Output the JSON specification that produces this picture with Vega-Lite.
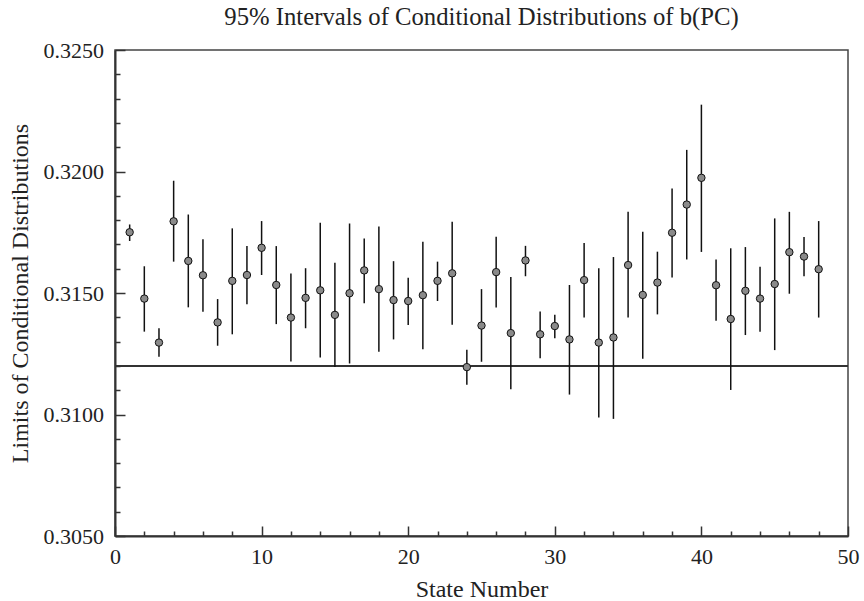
{
  "$schema": "https://vega.github.io/schema/vega-lite/v6.json",
  "width": 733,
  "height": 486,
  "autosize": "none",
  "padding": {"left": 115, "top": 50, "right": 16, "bottom": 65},
  "background": "white",
  "title": {
    "text": "95% Intervals of Conditional Distributions of b(PC)",
    "font": "Liberation Serif",
    "fontSize": 24.7,
    "fontWeight": "normal",
    "color": "#222",
    "anchor": "middle",
    "offset": 9
  },
  "config": {
    "view": {"stroke": "#444", "strokeWidth": 1.5},
    "axis": {
      "labelFont": "Liberation Serif",
      "titleFont": "Liberation Serif",
      "labelColor": "#222",
      "titleColor": "#222",
      "titleFontWeight": "normal",
      "grid": false,
      "domainColor": "#333",
      "domainWidth": 2,
      "tickColor": "#333",
      "tickWidth": 1.5
    }
  },
  "data": {
    "values": [
      {"state": 1, "mid": 0.31750, "lo": 0.31714, "hi": 0.31782},
      {"state": 2, "mid": 0.31477, "lo": 0.31341, "hi": 0.31610},
      {"state": 3, "mid": 0.31296, "lo": 0.31238, "hi": 0.31355},
      {"state": 4, "mid": 0.31795, "lo": 0.31629, "hi": 0.31962},
      {"state": 5, "mid": 0.31632, "lo": 0.31441, "hi": 0.31823},
      {"state": 6, "mid": 0.31573, "lo": 0.31423, "hi": 0.31721},
      {"state": 7, "mid": 0.31379, "lo": 0.31283, "hi": 0.31475},
      {"state": 8, "mid": 0.31550, "lo": 0.31330, "hi": 0.31766},
      {"state": 9, "mid": 0.31574, "lo": 0.31454, "hi": 0.31693},
      {"state": 10, "mid": 0.31686, "lo": 0.31574, "hi": 0.31796},
      {"state": 11, "mid": 0.31533, "lo": 0.31372, "hi": 0.31693},
      {"state": 12, "mid": 0.31399, "lo": 0.31218, "hi": 0.31580},
      {"state": 13, "mid": 0.31480, "lo": 0.31355, "hi": 0.31602},
      {"state": 14, "mid": 0.31511, "lo": 0.31235, "hi": 0.31789},
      {"state": 15, "mid": 0.31410, "lo": 0.31195, "hi": 0.31624},
      {"state": 16, "mid": 0.31499, "lo": 0.31210, "hi": 0.31786},
      {"state": 17, "mid": 0.31593, "lo": 0.31458, "hi": 0.31724},
      {"state": 18, "mid": 0.31516, "lo": 0.31258, "hi": 0.31774},
      {"state": 19, "mid": 0.31471, "lo": 0.31309, "hi": 0.31631},
      {"state": 20, "mid": 0.31467, "lo": 0.31368, "hi": 0.31563},
      {"state": 21, "mid": 0.31491, "lo": 0.31269, "hi": 0.31711},
      {"state": 22, "mid": 0.31550, "lo": 0.31467, "hi": 0.31629},
      {"state": 23, "mid": 0.31581, "lo": 0.31369, "hi": 0.31793},
      {"state": 24, "mid": 0.31195, "lo": 0.31122, "hi": 0.31266},
      {"state": 25, "mid": 0.31366, "lo": 0.31217, "hi": 0.31516},
      {"state": 26, "mid": 0.31586, "lo": 0.31440, "hi": 0.31731},
      {"state": 27, "mid": 0.31335, "lo": 0.31104, "hi": 0.31566},
      {"state": 28, "mid": 0.31634, "lo": 0.31569, "hi": 0.31694},
      {"state": 29, "mid": 0.31330, "lo": 0.31231, "hi": 0.31424},
      {"state": 30, "mid": 0.31364, "lo": 0.31314, "hi": 0.31410},
      {"state": 31, "mid": 0.31309, "lo": 0.31082, "hi": 0.31533},
      {"state": 32, "mid": 0.31553, "lo": 0.31399, "hi": 0.31706},
      {"state": 33, "mid": 0.31296, "lo": 0.30988, "hi": 0.31602},
      {"state": 34, "mid": 0.31317, "lo": 0.30982, "hi": 0.31648},
      {"state": 35, "mid": 0.31615, "lo": 0.31399, "hi": 0.31834},
      {"state": 36, "mid": 0.31492, "lo": 0.31229, "hi": 0.31752},
      {"state": 37, "mid": 0.31543, "lo": 0.31412, "hi": 0.31670},
      {"state": 38, "mid": 0.31748, "lo": 0.31564, "hi": 0.31930},
      {"state": 39, "mid": 0.31864, "lo": 0.31638, "hi": 0.32089},
      {"state": 40, "mid": 0.31974, "lo": 0.31669, "hi": 0.32275},
      {"state": 41, "mid": 0.31532, "lo": 0.31386, "hi": 0.31638},
      {"state": 42, "mid": 0.31393, "lo": 0.31101, "hi": 0.31684},
      {"state": 43, "mid": 0.31509, "lo": 0.31327, "hi": 0.31689},
      {"state": 44, "mid": 0.31477, "lo": 0.31341, "hi": 0.31608},
      {"state": 45, "mid": 0.31537, "lo": 0.31265, "hi": 0.31807},
      {"state": 46, "mid": 0.31668, "lo": 0.31497, "hi": 0.31834},
      {"state": 47, "mid": 0.31650, "lo": 0.31569, "hi": 0.31730},
      {"state": 48, "mid": 0.31598, "lo": 0.31399, "hi": 0.31796}
    ]
  },
  "encoding": {
    "x": {
      "field": "state",
      "type": "quantitative",
      "scale": {"domain": [0, 50], "nice": false, "zero": false},
      "axis": {
        "title": "State Number",
        "titleFontSize": 24,
        "titleY": 60,
        "titleBaseline": "alphabetic",
        "labelFontSize": 22,
        "labelBaseline": "alphabetic",
        "labelPadding": 37,
        "labelFlush": false,
        "values": [0, 2, 4, 6, 8, 10, 12, 14, 16, 18, 20, 22, 24, 26, 28, 30, 32, 34, 36, 38, 40, 42, 44, 46, 48, 50],
        "labelExpr": "datum.value % 10 == 0 ? datum.label : ''",
        "tickSize": {"condition": {"test": "datum.value % 10 == 0", "value": -10}, "value": -5}
      }
    },
    "y": {
      "field": "mid",
      "type": "quantitative",
      "scale": {"domain": [0.305, 0.325], "nice": false, "zero": false},
      "axis": {
        "title": "Limits of Conditional Distributions",
        "titleFontSize": 24,
        "titleX": -95,
        "titleY": 243,
        "titleAngle": -90,
        "titleAlign": "center",
        "titleBaseline": "middle",
        "labelFontSize": 22,
        "labelPadding": 21.5,
        "labelFlush": false,
        "values": [0.305, 0.306, 0.307, 0.308, 0.309, 0.310, 0.311, 0.312, 0.313, 0.314, 0.315, 0.316, 0.317, 0.318, 0.319, 0.320, 0.321, 0.322, 0.323, 0.324, 0.325],
        "labelExpr": "round(datum.value * 1000) % 5 == 0 ? format(datum.value, '.4f') : ''",
        "tickSize": {"condition": {"test": "round(datum.value * 1000) % 5 == 0", "value": -10}, "value": -5}
      }
    }
  },
  "layer": [
    {
      "mark": {"type": "rule", "color": "#333", "strokeWidth": 1.3},
      "encoding": {"y": {"datum": 0.312}, "x": null}
    },
    {
      "mark": {"type": "rule", "color": "#111", "strokeWidth": 1.5},
      "encoding": {"y": {"field": "lo", "type": "quantitative"}, "y2": {"field": "hi"}}
    },
    {
      "mark": {"type": "point", "filled": true, "fill": "#8a8a8a", "stroke": "#111", "strokeWidth": 1, "size": 55, "opacity": 1}
    }
  ]
}
